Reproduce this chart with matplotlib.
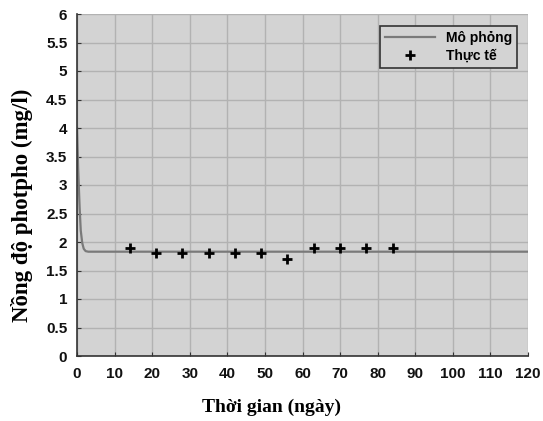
import matplotlib
matplotlib.use("Agg")
import matplotlib.pyplot as plt

sim_t = [0, 0.3, 0.7, 1.0, 1.4, 1.8, 2.3, 3.0, 120]
sim_y = [4.0, 3.3, 2.6, 2.2, 1.98, 1.88, 1.84, 1.83, 1.83]
obs_t = [14, 21, 28, 35, 42, 49, 56, 63, 70, 77, 84]
obs_y = [1.9, 1.8, 1.8, 1.8, 1.8, 1.8, 1.7, 1.9, 1.9, 1.9, 1.9]
xticks = list(range(0, 121, 10))
yticks = [0, 0.5, 1, 1.5, 2, 2.5, 3, 3.5, 4, 4.5, 5, 5.5, 6]
ytick_labels = ["0", "0.5", "1", "1.5", "2", "2.5", "3", "3.5", "4", "4.5", "5", "5.5", "6"]

fig = plt.figure(figsize=(5.43, 4.21), dpi=100)
ax = fig.add_axes([77/543, 1-356/421, (528-77)/543, (356-14)/421])
ax.set_facecolor("#d3d3d3")
ax.plot(sim_t, sim_y, color="#7a7a7a", lw=1.6, label="Mô phỏng")
ax.plot(obs_t, obs_y, "+", color="black", ms=7, mew=2.0, label="Thực tế")
ax.set_xlim(0, 120)
ax.set_ylim(0, 6)
ax.set_xticks(xticks)
ax.set_yticks(yticks)
ax.set_yticklabels(ytick_labels)
ax.grid(True, color="#b2b2b2", lw=1.0)
ax.set_axisbelow(True)
for s in ["top", "right"]:
    ax.spines[s].set_visible(False)
for s in ["left", "bottom"]:
    ax.spines[s].set_color("#333333")
    ax.spines[s].set_linewidth(1.2)
ax.tick_params(direction="in", length=3, color="#333333")
ax.tick_params(axis="x", pad=8)
ax.tick_params(axis="y", pad=7)
for lab in ax.get_xticklabels() + ax.get_yticklabels():
    lab.set_fontfamily("Liberation Sans")
    lab.set_fontweight("bold")
    lab.set_fontsize(11)
    lab.set_color("#111111")
ax.set_xlabel("Thời gian (ngày)", fontfamily="Liberation Serif", fontweight="bold", fontsize=14)
ax.set_ylabel("Nồng độ photpho (mg/l)", fontfamily="Liberation Serif", fontweight="bold", fontsize=16.5)
ax.xaxis.set_label_coords(0.432, -0.124)
ax.yaxis.set_label_coords(-0.098, 0.44)
leg = ax.legend(loc="upper right", bbox_to_anchor=(0.975, 0.965), frameon=True, fancybox=False,
                facecolor="#d3d3d3", edgecolor="#333333", prop={"family": "Liberation Sans", "weight": "bold", "size": 10},
                handlelength=3.6, borderpad=0.35, labelspacing=0.3, borderaxespad=0)
leg.get_frame().set_linewidth(1.2)
leg.get_frame().set_alpha(1)
fig.savefig("out.png", dpi=100)
